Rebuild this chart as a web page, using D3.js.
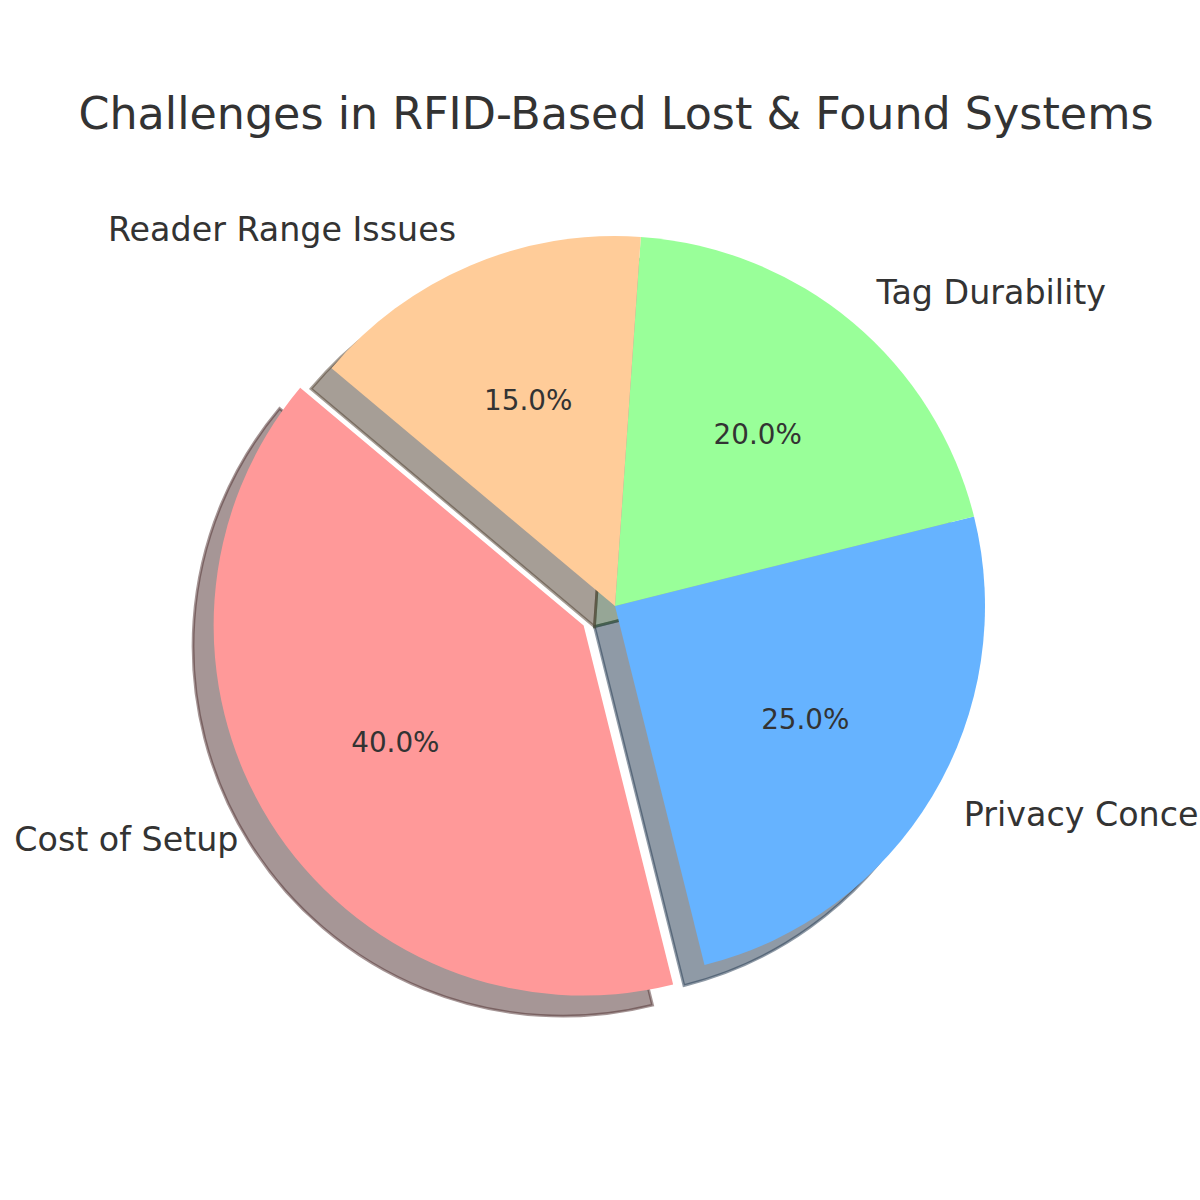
<!DOCTYPE html>
<html>
<head>
<meta charset="utf-8">
<script src="https://cdn.jsdelivr.net/npm/d3@7"></script>
<style>
  html, body { margin: 0; padding: 0; background: #ffffff; overflow: hidden; }
  svg { display: block; }
</style>
</head>
<body>
<div id="chart"></div>
<script>
const categories = ["Cost of Setup", "Privacy Concerns", "Tag Durability", "Reader Range Issues"];
const values = [40, 25, 20, 15];
const colors = ["#ff9999", "#66b3ff", "#99ff99", "#ffcc99"];
const explode = [0.1, 0, 0, 0];
const title = "Challenges in RFID-Based Lost & Found Systems";

const W = 1200, H = 1200;
const cx = 615, cy = 606;
const startDeg = 140; // matplotlib startangle, counter-clockwise
const rScale = d3.scaleLinear().domain([0, 1]).range([0, 370]);
const R = rScale(1);
const shadowOff = rScale(0.0556);
const textColor = "#333333";
const font = "DejaVu Sans, sans-serif";

const svg = d3.select("#chart").append("svg")
  .attr("width", W).attr("height", H);

const a0 = (90 - startDeg) * Math.PI / 180;
const pie = d3.pie().sort(null).value(d => d.value)
  .startAngle(a0).endAngle(a0 - 2 * Math.PI);

const data = categories.map((c, i) => ({ cat: c, value: values[i], color: colors[i], explode: explode[i] }));
const arcsData = pie(data);
const total = d3.sum(values);

const arc = d3.arc().innerRadius(0).outerRadius(R);

function offsetFor(d, dist) {
  const m = (d.startAngle + d.endAngle) / 2;
  return [Math.sin(m) * dist, -Math.cos(m) * dist];
}

const g = svg.append("g").attr("transform", `translate(${cx},${cy})`);

// shadows (drawn under all wedges)
arcsData.forEach(d => {
  const [ex, ey] = offsetFor(d, rScale(d.data.explode));
  const c = d3.rgb(d.data.color);
  const sc = d3.rgb(c.r * 0.3, c.g * 0.3, c.b * 0.3).formatHex();
  g.append("path")
    .attr("d", arc(d))
    .attr("transform", `translate(${ex - shadowOff},${ey + shadowOff})`)
    .attr("fill", sc)
    .attr("fill-opacity", 0.5)
    .attr("stroke", sc)
    .attr("stroke-opacity", 0.5)
    .attr("stroke-width", 2.8)
    .attr("stroke-linejoin", "miter");
});

// wedges
arcsData.forEach(d => {
  const [ex, ey] = offsetFor(d, rScale(d.data.explode));
  g.append("path")
    .attr("d", arc(d))
    .attr("transform", `translate(${ex},${ey})`)
    .attr("fill", d.data.color);
});

// labels
arcsData.forEach(d => {
  const [ex, ey] = offsetFor(d, rScale(d.data.explode));
  const [lx, ly] = offsetFor(d, rScale(1.1));
  g.append("text")
    .attr("x", ex + lx)
    .attr("y", ey + ly)
    .attr("dy", "0.3em")
    .attr("text-anchor", lx > 0 ? "start" : "end")
    .attr("font-family", font)
    .attr("font-size", "33.3px")
    .attr("fill", textColor)
    .text(d.data.cat);

  const [px, py] = offsetFor(d, rScale(0.6));
  g.append("text")
    .attr("x", ex + px)
    .attr("y", ey + py)
    .attr("dy", "0.3em")
    .attr("text-anchor", "middle")
    .attr("font-family", font)
    .attr("font-size", "27.8px")
    .attr("fill", textColor)
    .text((d.data.value / total * 100).toFixed(1) + "%");
});

// title
svg.append("text")
  .attr("x", 616)
  .attr("y", 129)
  .attr("text-anchor", "middle")
  .attr("font-family", font)
  .attr("font-size", "44.4px")
  .attr("fill", textColor)
  .text(title);
</script>
</body>
</html>
